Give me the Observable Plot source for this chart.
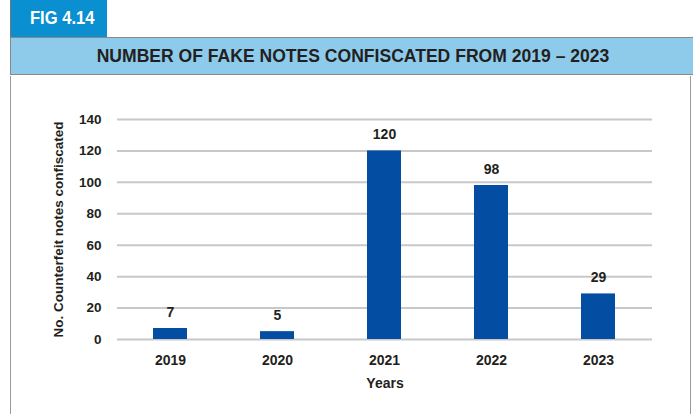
<!DOCTYPE html>
<html><head><meta charset="utf-8">
<script src="https://cdn.jsdelivr.net/npm/d3@7"></script>
<script src="https://cdn.jsdelivr.net/npm/@observablehq/plot@0.6"></script>
<style>
html,body{margin:0;padding:0;background:#fff;}
#wrap{position:relative;width:693px;height:414px;overflow:hidden;font-family:"Liberation Sans Narrow","Arial Narrow","Liberation Sans",Arial,sans-serif;font-weight:bold;color:#231f20;}
#tab{position:absolute;left:10px;top:0;width:97px;height:37px;background:#0a8fd0;color:#fff;border-left:1px solid #777;box-sizing:border-box;}
#tab span{position:absolute;left:19px;top:0;font-size:18px;line-height:37px;transform:scaleX(0.92);transform-origin:left center;white-space:nowrap;}
#band{position:absolute;left:10px;top:37px;width:690px;height:38px;background:#8ecbeb;border-top:1px solid #888;border-bottom:1px solid #888;border-left:1px solid #888;box-sizing:border-box;}
#band span{position:absolute;left:342px;top:0;font-size:18px;line-height:37px;transform:translateX(-50%) scaleX(0.975);white-space:nowrap;}
#panel{position:absolute;left:10px;top:76px;width:681px;height:340px;border-left:1px solid #999;border-right:1px solid #999;box-sizing:border-box;}
#chart{position:absolute;left:0;top:76px;}
</style></head>
<body><div id="wrap">
<div id="tab"><span>FIG 4.14</span></div>
<div id="band"><span>NUMBER OF FAKE NOTES CONFISCATED FROM 2019 – 2023</span></div>
<div id="panel"></div>
<div id="chart"></div>
</div>
<script>
const years = ["2019","2020","2021","2022","2023"];
const counts = [7,5,120,98,29];
const yTicks = [0,20,40,60,80,100,120,140];
const data = years.map((y,i)=>({year:y,count:counts[i]}));
const font = '"Liberation Sans Narrow","Arial Narrow","Liberation Sans",Arial,sans-serif';
const chart = Plot.plot({
  width:693, height:338,
  marginTop:43, marginBottom:75, marginLeft:117, marginRight:41,
  style:{fontFamily:font, fontWeight:"bold", fontSize:"14px", color:"#231f20", background:"transparent", overflow:"visible"},
  x:{domain:years, paddingInner:0.68, paddingOuter:0.34, label:null},
  y:{domain:[0,140], ticks:yTicks, label:null},
  marks:[
    Plot.gridY(yTicks,{stroke:"#c8c8c8", strokeOpacity:1, strokeWidth:2}),
    Plot.barY(data,{x:"year", y:"count", fill:"#034ea2"}),
    Plot.text(data,{x:"year", y:"count", text:d=>String(d.count), dy:-16, fill:"#231f20", fontSize:14}),
    Plot.axisX({tickSize:0, tickPadding:16, label:"Years", labelAnchor:"center", labelArrow:"none", labelOffset:48, fontSize:14}),
    Plot.axisY(yTicks,{tickSize:0, tickPadding:16, label:"No. Counterfeit notes confiscated", labelAnchor:"center", labelArrow:"none", labelOffset:64, fontSize:13.5})
  ]
});
document.getElementById("chart").appendChild(chart);
</script>
</body></html>
